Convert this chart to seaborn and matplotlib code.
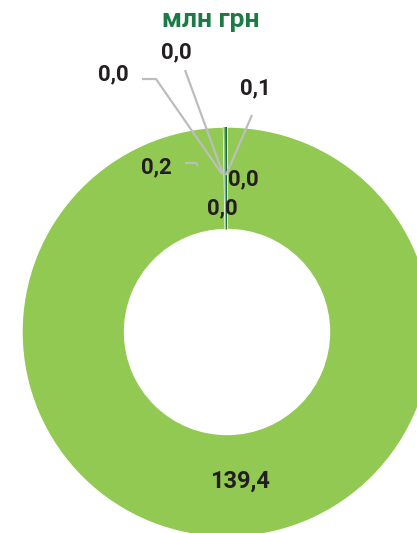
import matplotlib
matplotlib.use("Agg")
import matplotlib.pyplot as plt
import seaborn as sns

sns.set_theme(style="white")
plt.rcParams['font.family'] = ['Roboto', 'DejaVu Sans']

# ---- data ----
values = [139.4, 0.0, 0.0, 0.0, 0.1, 0.0, 0.2]
labels = ["139,4", "0,0", "0,0", "0,0", "0,1", "0,0", "0,2"]
colors = ["#92C952", "#5DA86A", "#3C9D5D", "#2F8A55", "#6DB35A", "#2A7F4F", "#1B6B3C"]
title = "млн грн"

W, H = 417, 533
CX, CY, R = 227, 332, 205  # donut centre and outer radius in pixels


def px(x, y):
    return ((x - CX) / R, (CY - y) / R)


fig = plt.figure(figsize=(W / 100, H / 100), dpi=100)
ax = fig.add_axes([0, 0, 1, 1])

# tiny nonzero sizes so zero slices still exist as thin wedges
sizes = [v if v > 0 else 0.02 for v in values]
wedges, _ = ax.pie(sizes, colors=colors, startangle=90, counterclock=False, radius=1.0,
                   wedgeprops=dict(width=0.5, edgecolor="none", linewidth=0))
# single white separator on the right edge of the main slice start
wedges[0].set_edgecolor("white")
wedges[0].set_linewidth(1.0)

ax.set_xlim(px(0, 0)[0], px(W, 0)[0])
ax.set_ylim(px(0, H)[1], px(0, 0)[1])
ax.set_aspect("auto")
ax.axis("off")

txt_color = "#231F20"
line_color = "#BDBDBD"

# label positions (pixel centres) for each value label
label_pos = [(240, 481), (113, 74), (176, 52), (243, 179), (255, 88), (222, 208), (156, 167)]
for i, (lab, (x, y)) in enumerate(zip(labels, label_pos)):
    fs = 17 if i == 0 else 16
    ax.text(*px(x, y), lab, ha="center", va="center", fontsize=fs,
            fontweight="bold", color=txt_color, zorder=5)

# leader lines (pixel paths)
leaders = [
    [(142, 79), (156, 79), (222, 174)],
    [(185, 70), (223, 174)],
    [(252, 115), (226, 175)],
    [(185, 163), (196, 163), (198, 166)],
]
for path in leaders:
    pts = [px(x, y) for x, y in path]
    ax.plot([p[0] for p in pts], [p[1] for p in pts], color=line_color, lw=1.6,
            solid_capstyle="butt", zorder=3)

ax.text(*px(211, 20), title, ha="center", va="center", fontsize=19,
        fontweight="bold", color="#1B7A45")

fig.savefig("out.png", dpi=100)
